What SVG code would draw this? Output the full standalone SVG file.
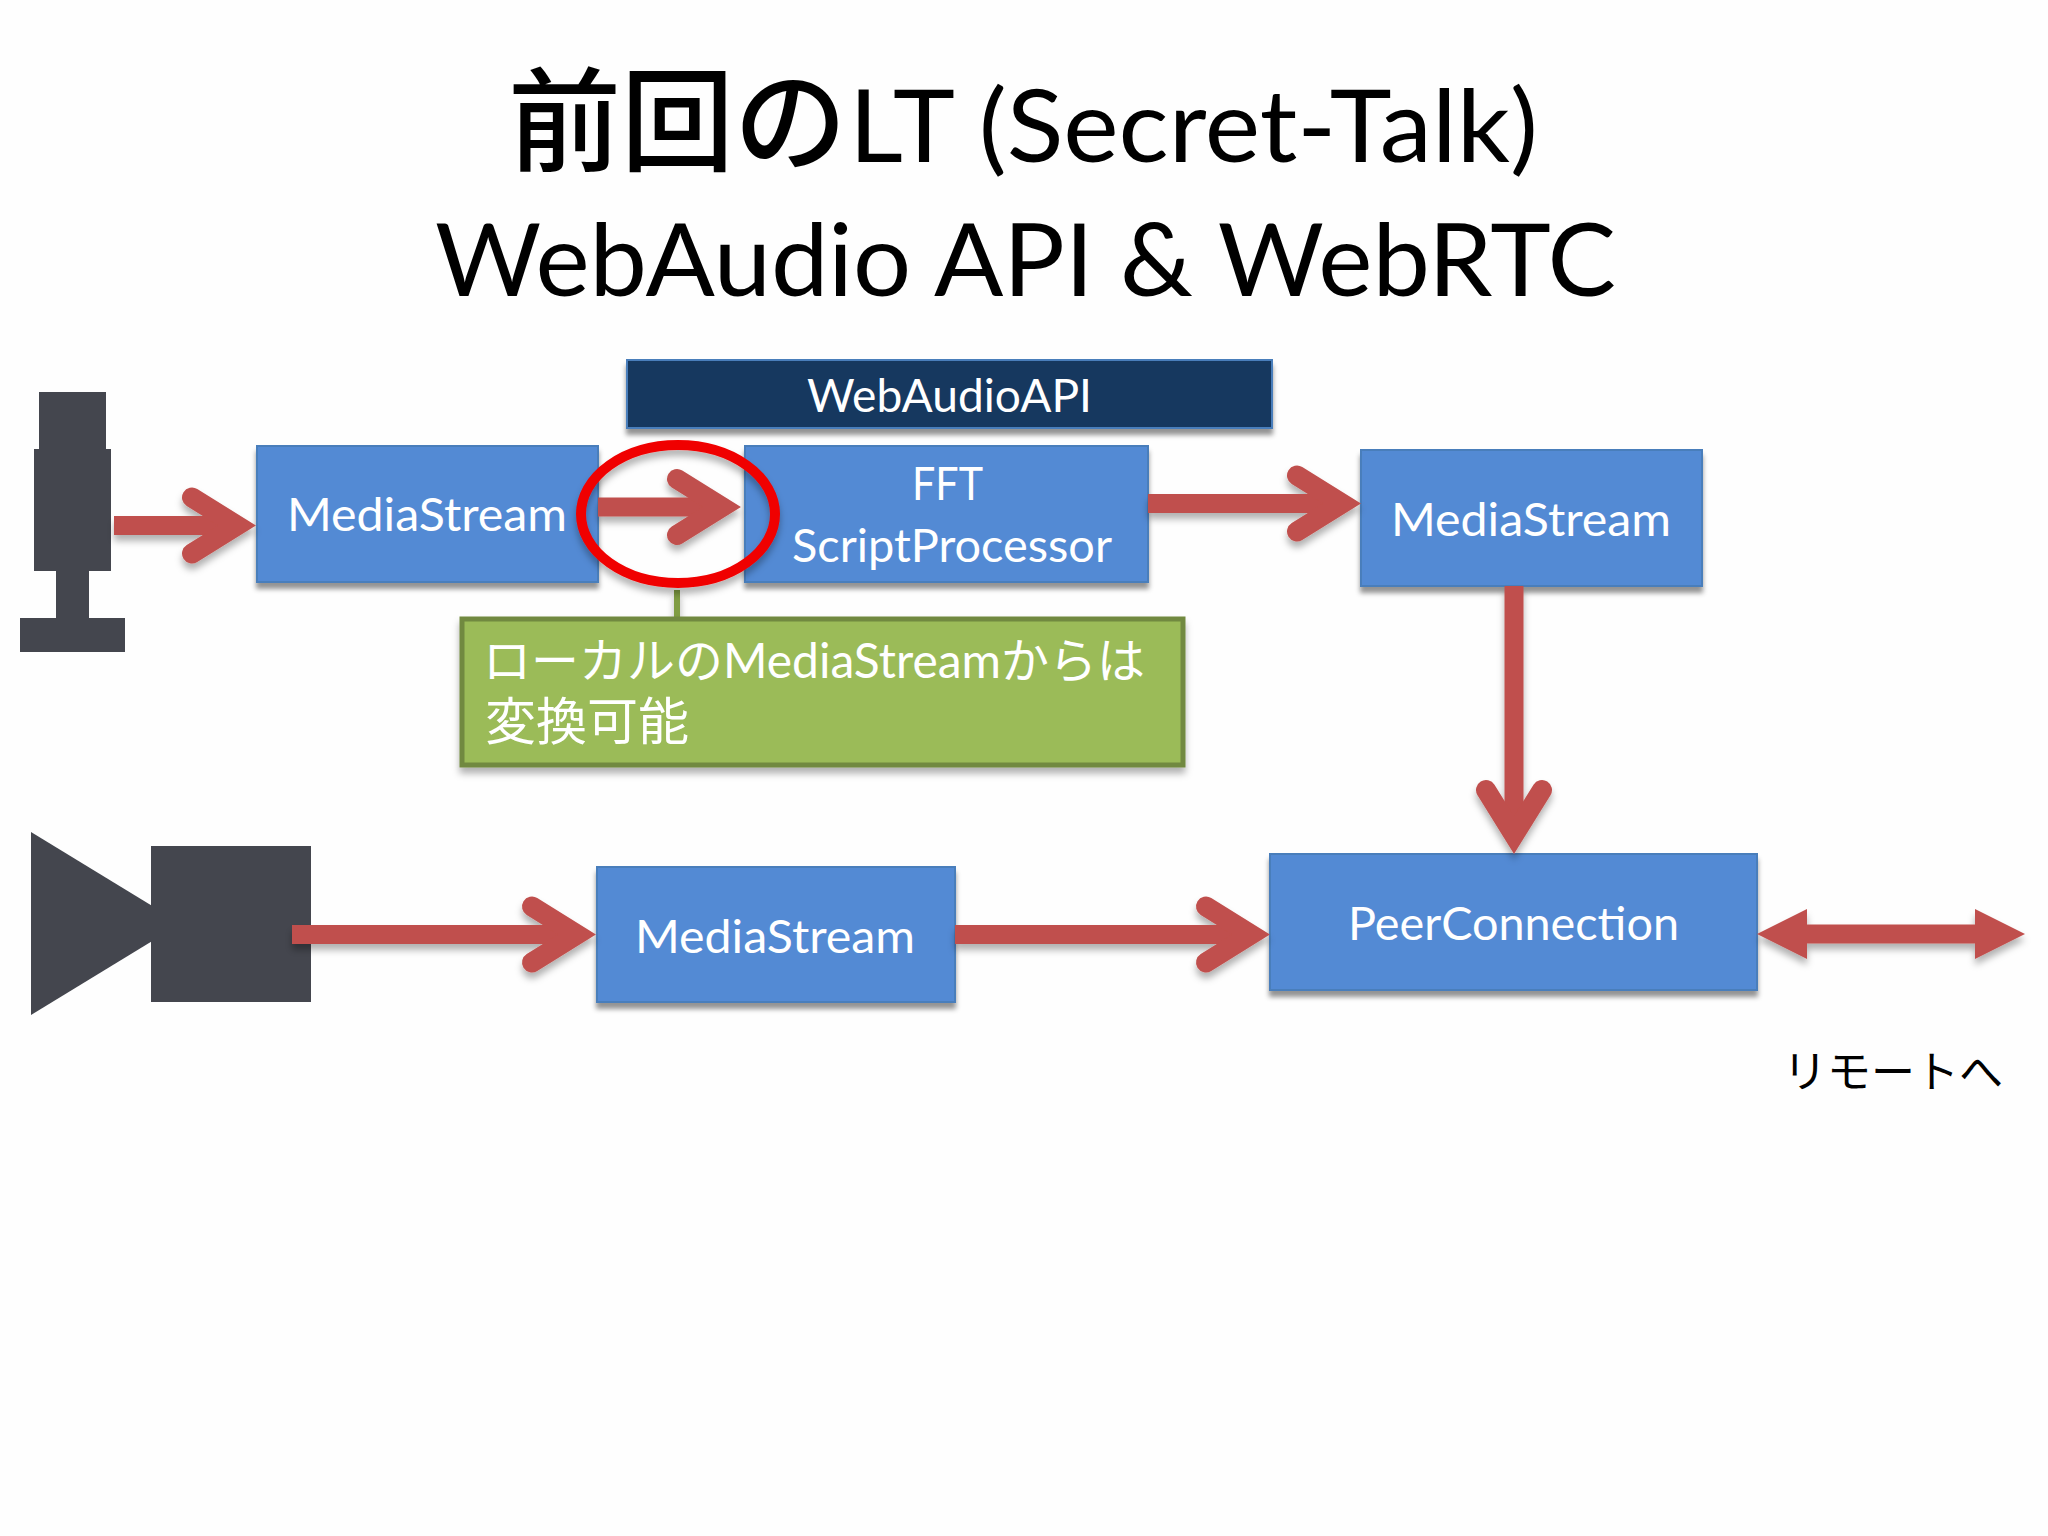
<svg xmlns="http://www.w3.org/2000/svg" width="2048" height="1536" viewBox="0 0 2048 1536">
<style>
text{font-family:"Lato","Noto Sans CJK JP",sans-serif}
.box{fill:#538ad4;stroke:#4a7ebb;stroke-width:2}
.lbl{fill:#fff;font-size:46px}
.icon{fill:#44464e}
.title{fill:#000;font-size:101px}
.arrow{fill:none;stroke:#c0504d;stroke-width:19}
.cjk{font-family:"Noto Sans CJK JP",sans-serif}
</style>
<defs>
<filter id="sh" x="-20%" y="-20%" width="140%" height="150%"><feDropShadow dx="0" dy="6" stdDeviation="2.5" flood-color="#000" flood-opacity=".42"/></filter>
<filter id="ash" x="-20%" y="-40%" width="140%" height="180%"><feDropShadow dx="0" dy="6" stdDeviation="3.5" flood-color="#000" flood-opacity=".3"/></filter>
<marker id="open" markerUnits="userSpaceOnUse" markerWidth="90" markerHeight="90" refX="70" refY="45" orient="auto" overflow="visible">
<path d="M25 17L70 45L25 73" fill="none" stroke="#c0504d" stroke-width="20" stroke-linecap="round" stroke-linejoin="miter" stroke-miterlimit="6"/>
</marker>
</defs>
<rect width="2048" height="1536" fill="#fefefe"/>
<g id="title">
<text x="508" y="162" class="title cjk" style="font-size:113px;font-weight:500">前回の</text>
<text class="title" x="849" y="162" textLength="689" lengthAdjust="spacingAndGlyphs">LT (Secret-Talk)</text>
<text class="title" x="435" y="296" textLength="1181" lengthAdjust="spacingAndGlyphs">WebAudio API &amp; WebRTC</text>
</g>
<g id="mic" class="icon">
<rect x="39" y="392" width="67" height="57"/>
<rect x="34" y="449" width="77" height="122"/>
<rect x="56" y="571" width="33" height="47"/>
<rect x="20" y="618" width="105" height="34"/>
</g>
<g id="camera" class="icon">
<path d="M31 832L181 923.5L31 1015Z"/>
<rect x="151" y="846" width="160" height="156"/>
</g>
<g id="webaudio"><rect class="box" style="fill:#17375e" x="627" y="360" width="645" height="68" filter="url(#sh)"/><text class="lbl" x="807" y="412" textLength="285" lengthAdjust="spacingAndGlyphs">WebAudioAPI</text></g>
<g id="ms1"><rect class="box" x="257" y="446" width="341" height="136" filter="url(#sh)"/><text class="lbl" x="287" y="531" textLength="280" lengthAdjust="spacingAndGlyphs">MediaStream</text></g>
<g id="fft"><rect class="box" x="745" y="446" width="403" height="136" filter="url(#sh)"/><text class="lbl" x="912" y="500" textLength="71" lengthAdjust="spacingAndGlyphs">FFT</text><text class="lbl" x="792" y="562" textLength="320" lengthAdjust="spacingAndGlyphs">ScriptProcessor</text></g>
<g id="ms2"><rect class="box" x="1361" y="450" width="341" height="136" filter="url(#sh)"/><text class="lbl" x="1391" y="536" textLength="280" lengthAdjust="spacingAndGlyphs">MediaStream</text></g>
<g id="ms3"><rect class="box" x="597" y="867" width="358" height="135" filter="url(#sh)"/><text class="lbl" x="635" y="953" textLength="280" lengthAdjust="spacingAndGlyphs">MediaStream</text></g>
<g id="pc"><rect class="box" x="1270" y="854" width="487" height="136" filter="url(#sh)"/><text class="lbl" x="1348" y="940" textLength="331" lengthAdjust="spacingAndGlyphs">PeerConnection</text></g>
<g id="connectors" filter="url(#ash)">
<line class="arrow" x1="114" y1="525.500" x2="237" y2="525.500" marker-end="url(#open)"/>
<line class="arrow" x1="598" y1="507" x2="722" y2="507" marker-end="url(#open)"/>
<line class="arrow" x1="1148" y1="503.500" x2="1342" y2="503.500" marker-end="url(#open)"/>
<line class="arrow" x1="1514" y1="586" x2="1514" y2="835" marker-end="url(#open)"/>
<line class="arrow" x1="292" y1="934.500" x2="577" y2="934.500" marker-end="url(#open)"/>
<line class="arrow" x1="955" y1="934.500" x2="1251" y2="934.500" marker-end="url(#open)"/>
<path d="M1757 934L1807 909V924.500H1975V909L2025 934L1975 959V943.500H1807V959Z" fill="#c0504d"/>
<line x1="677" y1="590" x2="677" y2="620" stroke="#7f9c42" stroke-width="6"/>
</g>
<g id="note"><rect x="462" y="619" width="721" height="146" fill="#9bbb59" stroke="#71893f" stroke-width="5" filter="url(#ash)"/>
<text class="lbl" x="483" y="678" style="font-size:48px" textLength="662" lengthAdjust="spacingAndGlyphs">ローカルのMediaStreamからは</text>
<text class="lbl cjk" x="485" y="740" style="font-size:51px">変換可能</text></g>
<g id="highlight"><ellipse cx="678" cy="514" rx="97" ry="69" fill="none" stroke="#f00000" stroke-width="10" filter="url(#ash)"/></g>
<g id="remote"><text class="cjk" x="1783" y="1088" font-size="44" fill="#000">リモートへ</text></g>
</svg>
